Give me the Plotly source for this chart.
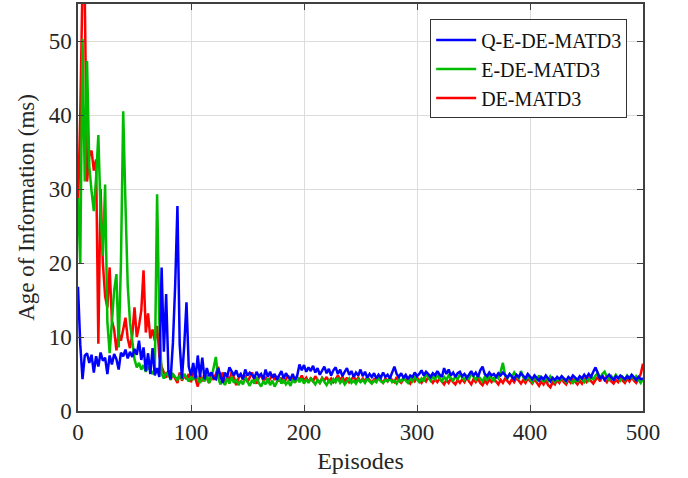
import plotly.graph_objects as go

# Episode step between stored samples
STEP = 2

q_e_de_matd3 = [
    16.8, 9.0, 4.3, 7.5, 7.8, 6.5, 7.6, 5.2, 7.4, 6.0,
    7.9, 6.8, 7.2, 5.0, 7.5, 6.3, 7.7, 7.0, 5.6, 7.9,
    7.4, 8.3, 7.1, 8.0, 7.3, 8.4, 7.6, 9.5, 6.9, 8.6,
    5.4, 7.8, 5.0, 8.5, 4.8, 5.8, 4.6, 19.4, 8.0, 15.8,
    5.5, 4.3, 9.2, 17.0, 27.7, 9.0, 4.4, 8.8, 14.7, 6.0,
    4.8, 6.5, 4.4, 7.5, 4.6, 7.2, 4.3, 5.8, 4.7, 5.2,
    4.5, 4.3, 5.8, 4.9, 3.8, 5.2, 4.6, 5.9, 5.4, 4.8,
    5.5, 4.6, 5.0, 4.3, 5.6, 4.8, 5.2, 4.9, 4.4, 5.3,
    4.7, 5.0, 4.3, 5.6, 4.6, 5.3, 4.5, 5.0, 4.2, 4.8,
    5.4, 4.4, 5.1, 4.6, 4.3, 5.0, 4.2, 4.8, 6.3, 5.5,
    6.2, 5.3, 5.9, 5.4, 6.1, 5.2, 5.8, 4.9, 5.4, 6.0,
    5.1, 5.7, 4.8, 5.5, 5.9, 5.0, 5.6, 4.7, 5.3, 5.8,
    4.9, 5.4, 4.6, 5.2, 4.8, 5.6, 4.7, 5.3, 4.5, 5.0,
    4.6, 5.1, 4.4, 4.9, 4.5, 5.2, 4.6, 4.9, 4.4, 5.3,
    6.0, 5.0, 4.6, 5.1, 4.5, 4.9, 4.3, 4.8, 4.6, 5.2,
    4.7, 5.0, 5.5, 4.8, 5.3, 5.0, 4.6, 5.1, 4.8, 5.4,
    4.9, 4.6, 5.8, 5.0, 5.6, 4.8, 5.2, 4.6, 5.1, 5.3,
    4.7, 5.0, 4.5, 4.9, 5.4, 4.8, 5.2, 4.6, 5.5, 6.0,
    5.0, 4.7, 5.2, 4.8, 5.0, 4.6, 5.1, 4.8, 5.2, 4.9,
    4.5, 5.0, 4.7, 4.3, 4.9, 4.6, 5.1, 4.8, 4.4, 5.0,
    4.7, 4.3, 4.8, 4.5, 4.1, 4.6, 4.3, 4.8, 4.4, 4.0,
    4.5, 4.2, 4.6, 4.3, 4.7, 4.4, 4.1, 4.6, 4.3, 4.8,
    4.5, 4.2, 4.7, 4.4, 4.9, 4.5, 5.0, 4.6, 5.3, 5.9,
    5.1, 4.4, 4.7, 4.2, 4.6, 4.9, 4.5, 4.2, 4.7, 4.4,
    4.8, 4.5, 4.3, 4.7, 4.4, 4.9, 4.5, 4.2, 4.6, 4.3,
    4.4,
]

e_de_matd3 = [
    28.8, 19.9, 50.3, 31.0, 47.3, 33.0, 29.7, 27.0, 31.5, 37.3,
    26.6, 21.0, 30.6, 12.0, 7.8, 12.5, 16.3, 18.5, 8.6, 20.0,
    40.5, 28.0, 17.0, 12.0, 9.5, 7.0, 5.9, 6.5, 5.6, 6.2,
    5.3, 6.0, 5.5, 5.0, 5.8, 29.3, 12.0, 5.0, 4.4, 5.2,
    4.8, 4.4, 5.0, 4.6, 4.2, 4.8, 4.4, 5.0, 4.5, 4.0,
    4.6, 4.2, 5.0, 4.3, 3.8, 4.5, 4.0, 4.8, 3.8, 4.4,
    6.0, 7.3, 4.5, 3.6, 4.2, 3.5, 4.4, 3.7, 4.6, 3.8,
    4.3, 3.5, 4.1, 3.6, 4.5, 3.9, 3.4, 4.2, 3.7, 4.6,
    3.8, 3.3, 4.0, 3.6, 4.4, 3.5, 4.1, 3.3, 3.9, 4.5,
    3.7, 4.2, 3.6, 4.0, 3.4, 4.3, 3.8, 4.6, 3.9, 4.4,
    3.7, 4.3, 3.8, 4.5, 4.0, 3.6, 4.2, 3.8, 4.4, 3.9,
    3.5, 4.1, 3.7, 4.3, 3.9, 4.5, 3.8, 4.2, 3.6, 4.0,
    4.4, 3.8, 4.1, 3.7, 4.3, 3.9, 4.2, 3.8, 4.4, 4.0,
    3.7, 4.1, 3.9, 4.5, 4.0, 3.8, 4.2, 4.0, 4.4, 3.9,
    4.1, 3.7, 4.3, 4.0, 4.5, 4.1, 3.8, 4.4, 4.0, 4.6,
    4.2, 3.9, 4.4, 4.0, 5.2, 4.5, 4.1, 4.7, 4.3, 4.9,
    4.4, 4.0, 4.6, 4.2, 4.8, 4.4, 4.1, 4.7, 4.3, 4.9,
    4.5, 4.2, 4.7, 4.3, 5.1, 4.6, 4.2, 4.8, 4.4, 4.0,
    4.6, 4.2, 4.8, 4.5, 4.1, 4.7, 4.4, 5.3, 6.5, 4.8,
    4.4, 5.0, 4.6, 5.2, 4.7, 4.3, 5.4, 4.6, 4.2, 4.7,
    4.3, 3.9, 4.6, 4.2, 4.8, 4.3, 4.0, 4.5, 4.1, 4.7,
    4.3, 3.9, 4.4, 4.1, 4.6, 4.2, 3.9, 4.5, 4.1, 3.8,
    4.3, 4.0, 4.6, 4.2, 3.9, 4.5, 4.1, 4.7, 4.3, 4.8,
    5.1, 4.4, 5.0, 5.3, 4.6, 4.2, 4.7, 4.3, 4.9, 4.5,
    4.1, 4.6, 4.2, 4.8, 4.4, 4.9, 4.3, 4.7, 4.2, 3.8,
    4.3,
]

de_matd3 = [
    27.4, 40.0, 58.0, 56.0, 31.0, 34.5, 35.2, 32.5, 34.0, 9.1,
    30.0, 20.0, 15.5, 14.0, 19.4, 12.2, 11.0, 8.2, 10.5, 9.5,
    11.0, 12.6, 9.8, 8.5, 10.2, 14.0, 10.0, 11.5, 13.6, 19.0,
    10.6, 13.2, 9.8, 11.0, 9.5, 11.5, 7.5, 6.0, 5.2, 4.5,
    5.5, 4.2, 5.0, 4.4, 3.8, 5.2, 4.1, 4.8, 4.3, 5.0,
    3.9, 5.4, 4.2, 3.3, 4.8, 4.0, 5.1, 4.5, 3.8, 4.9,
    4.2, 5.0, 6.0, 4.3, 5.2, 3.6, 4.7, 4.1, 5.3, 4.5,
    3.5, 4.4, 5.0, 4.2, 4.8, 3.9, 4.6, 5.2, 4.3, 3.7,
    4.5, 4.9, 4.1, 4.6, 3.8, 4.4, 4.9, 4.2, 4.7, 4.0,
    4.5, 3.8, 4.4, 4.8, 4.1, 4.6, 3.9, 4.5, 4.2, 4.8,
    4.1, 4.5, 3.9, 4.4, 4.0, 4.7, 4.2, 3.8, 4.5, 4.1,
    4.6, 4.0, 4.4, 3.9, 4.3, 4.8, 4.2, 4.6, 4.0, 4.5,
    3.9, 4.3, 4.7, 4.1, 4.5, 3.9, 4.4, 4.0, 4.6, 4.2,
    3.8, 4.3, 4.0, 4.5, 4.1, 3.8, 4.4, 4.0, 4.5, 4.2,
    3.9, 4.6, 4.1, 3.8, 4.3, 4.8, 4.1, 3.7, 4.4, 4.0,
    4.5, 4.1, 3.8, 4.4, 4.0, 4.6, 4.2, 3.8, 4.3, 3.9,
    4.4, 4.0, 3.6, 4.2, 3.8, 4.4, 3.9, 3.6, 4.2, 3.8,
    4.3, 3.9, 4.5, 4.0, 3.6, 4.3, 3.9, 4.4, 3.8, 3.5,
    4.1, 3.7, 4.3, 3.9, 4.4, 4.0, 3.6, 4.2, 3.8, 4.4,
    4.0, 3.7, 4.3, 3.9, 4.5, 4.1, 3.7, 4.2, 3.8, 4.4,
    4.0, 3.7, 4.3, 3.9, 3.4, 4.0, 3.6, 4.2, 3.5, 3.2,
    3.9, 3.6, 4.2, 3.8, 4.4, 3.9, 3.6, 4.2, 3.8, 4.3,
    3.9, 3.6, 4.1, 3.7, 4.3, 3.9, 4.4, 4.0, 3.7, 4.2,
    4.6, 4.0, 4.8, 4.3, 3.9, 4.5, 4.0, 3.7, 4.2, 3.9,
    4.5, 4.1, 3.8, 4.4, 4.0, 4.6, 4.1, 3.8, 4.5, 5.0,
    6.4,
]

x_ticks = [0, 100, 200, 300, 400, 500]
y_ticks = [0, 10, 20, 30, 40, 50]

FONT = "Liberation Serif, Times New Roman, serif"

def episodes(values):
    return [i * STEP for i in range(len(values))]

fig = go.Figure()
# draw order: red under green under blue; legend order via legendrank
fig.add_trace(go.Scatter(x=episodes(de_matd3), y=de_matd3, mode="lines",
                         name="DE-MATD3", legendrank=3,
                         line=dict(color="#ff0000", width=2.5)))
fig.add_trace(go.Scatter(x=episodes(e_de_matd3), y=e_de_matd3, mode="lines",
                         name="E-DE-MATD3", legendrank=2,
                         line=dict(color="#00bb00", width=2.5)))
fig.add_trace(go.Scatter(x=episodes(q_e_de_matd3), y=q_e_de_matd3, mode="lines",
                         name="Q-E-DE-MATD3", legendrank=1,
                         line=dict(color="#0000ff", width=2.5)))

axis_common = dict(
    showline=True, linecolor="#404040", linewidth=1.5, mirror="ticks",
    ticks="inside", ticklen=6, tickcolor="#404040", tickwidth=1.2,
    showgrid=True, gridcolor="#dcdcdc", gridwidth=1, zeroline=False,
    automargin=False,
    tickfont=dict(family=FONT, size=23, color="#262626"),
)

fig.update_layout(
    width=688, height=478,
    paper_bgcolor="white", plot_bgcolor="white",
    margin=dict(l=78, r=45, t=4, b=67),
    font=dict(family=FONT, color="#262626"),
    showlegend=True,
    legend=dict(
        x=0.972, y=0.962, xanchor="right", yanchor="top",
        bgcolor="white", bordercolor="#333333", borderwidth=1,
        font=dict(family=FONT, size=20, color="#111111"),
        tracegroupgap=0, itemwidth=40,
    ),
    xaxis=dict(range=[0, 500], tickvals=x_ticks,
               title=dict(text="Episodes", font=dict(family=FONT, size=24), standoff=8),
               **axis_common),
    yaxis=dict(range=[0, 55], tickvals=y_ticks,
               title=dict(text="Age of Information (ms)", font=dict(family=FONT, size=23), standoff=8),
               **axis_common),
)

fig.write_html("out.html", config={"displayModeBar": False},
               post_script="document.body.style.margin='0px';")
